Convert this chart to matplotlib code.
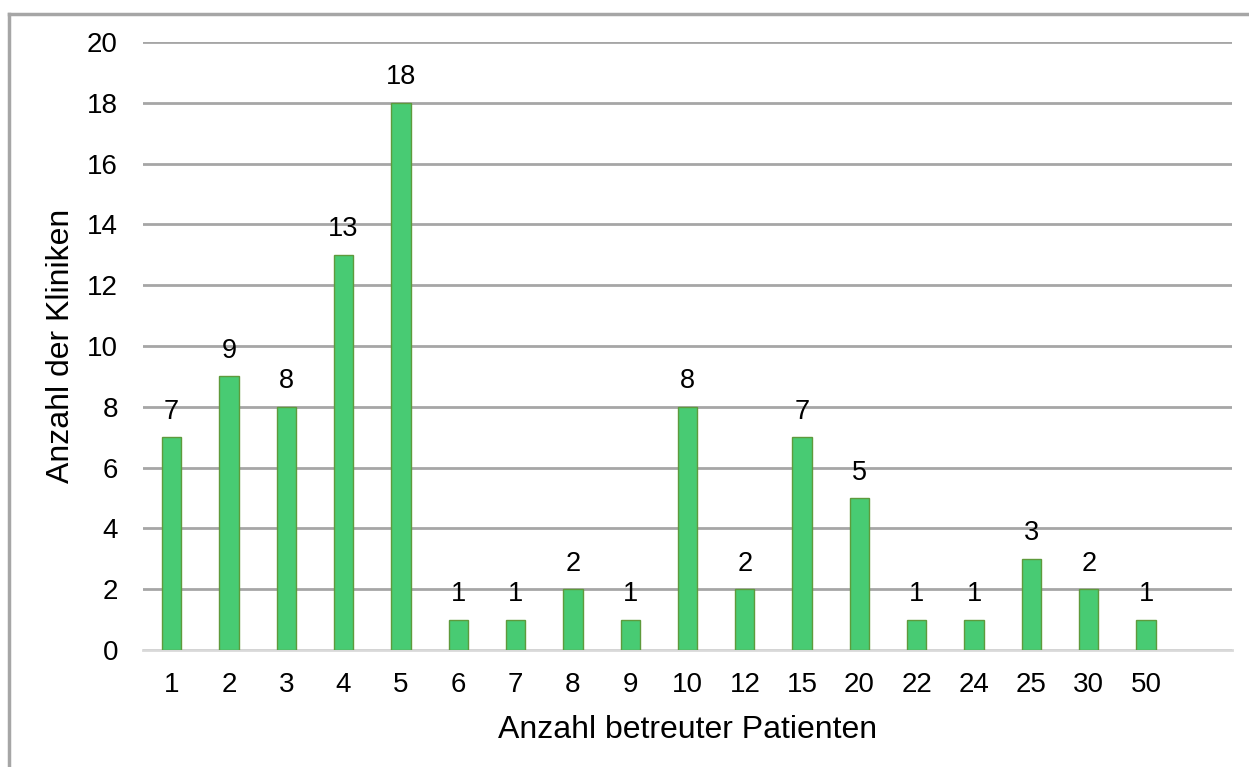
import matplotlib
matplotlib.use("Agg")
import matplotlib.pyplot as plt
from matplotlib.lines import Line2D

plt.rcParams['font.family'] = ['Liberation Sans', 'DejaVu Sans']

categories = ["1", "2", "3", "4", "5", "6", "7", "8", "9", "10",
              "12", "15", "20", "22", "24", "25", "30", "50"]
counts = [7, 9, 8, 13, 18, 1, 1, 2, 1, 8, 2, 7, 5, 1, 1, 3, 2, 1]
y_ticks = [0, 2, 4, 6, 8, 10, 12, 14, 16, 18, 20]

W, H = 1249, 767
fig = plt.figure(figsize=(W / 100, H / 100), dpi=100)
ax = fig.add_axes([143 / W, 1 - 650 / H, (1232 - 143) / W, (650 - 42) / H])

x = list(range(len(categories)))
bars = ax.bar(x, counts, width=0.337, color="#48CB73", edgecolor="#5E9A3C",
              linewidth=1.0, zorder=3)

for xi, v in zip(x, counts):
    ax.annotate(str(v), (xi, v), xytext=(0, 9), textcoords="offset points",
                ha="center", va="bottom", fontsize=19.5, color="black", zorder=4)

# one empty slot on the right of the last category
ax.set_xlim(-0.5, len(categories) + 0.5)
ax.set_ylim(0, 20)
ax.set_yticks(y_ticks)
ax.set_xticks(x)
ax.set_xticklabels(categories)
ax.tick_params(axis="both", length=0, labelsize=20, colors="black")
ax.tick_params(axis="y", pad=18)
ax.tick_params(axis="x", pad=16)

ax.grid(axis="y", color="#A6A6A6", linewidth=2.0, zorder=0)
ax.set_axisbelow(True)
for side in ["left", "right", "top"]:
    ax.spines[side].set_visible(False)
ax.spines["bottom"].set_color("#D9D9D9")
ax.spines["bottom"].set_linewidth(2.0)
ax.spines["bottom"].set_zorder(2)

ax.set_xlabel("Anzahl betreuter Patienten", fontsize=23, labelpad=12)
ax.set_ylabel("Anzahl der Kliniken", fontsize=23, labelpad=8)

# outer chart frame (top and left edges)
frame_color = "#A6A6A6"
fig.add_artist(Line2D([9 / W, 1.0], [1 - 14 / H, 1 - 14 / H],
                      transform=fig.transFigure, color=frame_color, linewidth=2.5))
fig.add_artist(Line2D([9 / W, 9 / W], [0.0, 1 - 14 / H],
                      transform=fig.transFigure, color=frame_color, linewidth=2.5))

fig.savefig("out.png", dpi=100, facecolor="white")
